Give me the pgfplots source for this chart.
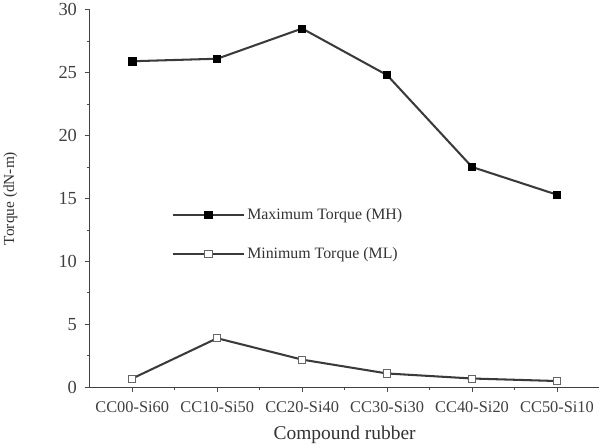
\documentclass[border=0pt]{standalone}
\usepackage{fontspec}
\setmainfont{Liberation Serif}
\usepackage{pgfplots}
\pgfplotsset{compat=1.18}
\definecolor{linegray}{HTML}{3A3A3A}
\begin{document}
\begin{tikzpicture}
\begin{axis}[
  scale only axis,
  width=498pt, height=369pt,
  xmin=-0.5, xmax=5.5,
  ymin=0, ymax=30,
  axis x line*=bottom, axis y line*=left,
  axis line style={line width=1pt, black!75},
  xtick={0,1,2,3,4,5},
  xticklabels={CC00-Si60,CC10-Si50,CC20-Si40,CC30-Si30,CC40-Si20,CC50-Si10},
  minor xtick={0.5,1.5,2.5,3.5,4.5},
  ytick={0,5,10,15,20,25,30},
  minor ytick={2.5,7.5,12.5,17.5,22.5,27.5},
  tick align=outside,
  major tick length=5pt, minor tick length=3pt,
  tick style={black!70, line width=0.8pt},
  /pgf/number format/assume math mode=true,
  xticklabel style={font=\fontsize{16}{16}\selectfont, text=black!75, yshift=-5pt},
  yticklabel style={font=\fontsize{18}{18}\selectfont, text=black!75, xshift=-4pt},
  xlabel={Compound rubber},
  ylabel={Torque (dN-m)},
  xlabel style={font=\fontsize{19}{19}\selectfont, text=black!80, yshift=-7pt},
  ylabel style={font=\fontsize{15}{15}\selectfont, text=black!80, at={(-0.135,0.5)}},
  legend style={draw=none, fill=none, font=\fontsize{15.5}{15.5}\selectfont,
    at={(0.16,0.48)}, anchor=north west, row sep=22pt, text=black!80,
    inner sep=0pt},
  legend cell align=left,
  legend image code/.code={
    \draw[mark repeat=2, mark phase=2] plot coordinates {(0pt,0pt) (35pt,0pt) (70pt,0pt)};
  },
]
\addplot[linegray, line width=2pt, mark=square*, mark size=3.5pt,
  mark options={fill=black, draw=black, line width=0.6pt}]
  coordinates {(0,25.9) (1,26.1) (2,28.5) (3,24.8) (4,17.5) (5,15.3)};
\addplot[linegray, line width=2pt, mark=square*, mark size=3.5pt,
  mark options={fill=white, draw=black!60, line width=0.8pt}]
  coordinates {(0,0.7) (1,3.9) (2,2.2) (3,1.1) (4,0.7) (5,0.5)};
\legend{Maximum Torque (MH), Minimum Torque (ML)}
\end{axis}
\end{tikzpicture}
\end{document}
